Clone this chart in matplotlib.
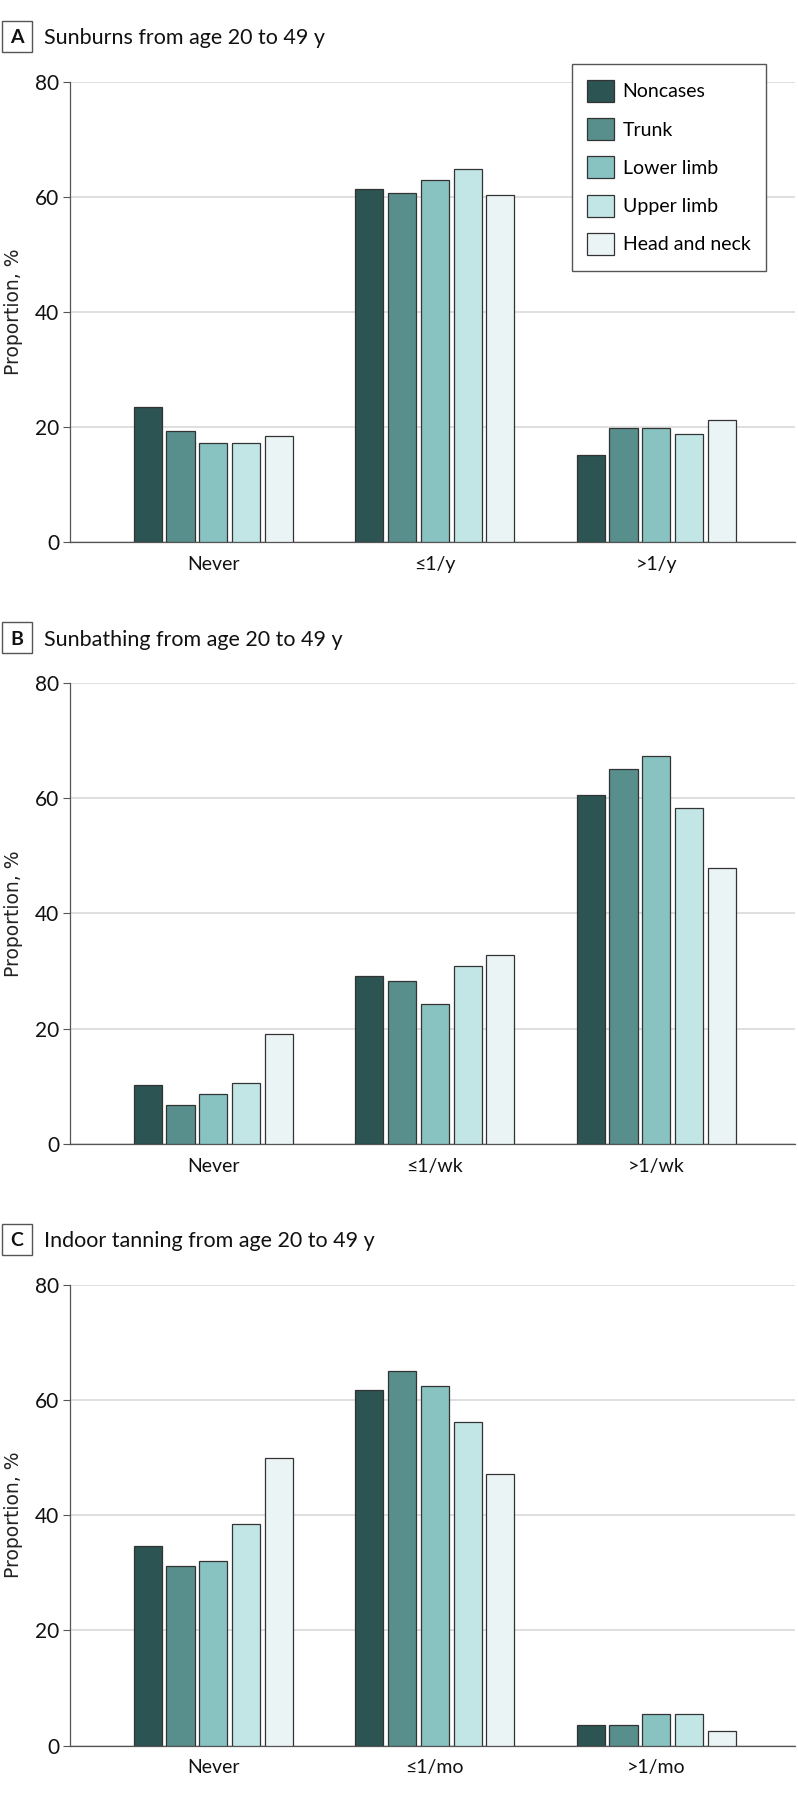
import matplotlib
matplotlib.use('Agg')
import matplotlib.pyplot as plt
from matplotlib.patches import Rectangle
import numpy as np

series = ['Noncases', 'Trunk', 'Lower limb', 'Upper limb', 'Head and neck']
colors = ['#2C5453', '#588F8C', '#88C3C2', '#C2E6E6', '#EAF4F5']

titles = ['Sunburns from age 20 to 49 y',
          'Sunbathing from age 20 to 49 y',
          'Indoor tanning from age 20 to 49 y']
letters = ['A', 'B', 'C']

cats_a = ['Never', '≤1/y', '>1/y']
cats_b = ['Never', '≤1/wk', '>1/wk']
cats_c = ['Never', '≤1/mo', '>1/mo']

# rows = series, columns = categories
sunburn = [[23.5, 61.3, 15.2],
           [19.4, 60.7, 19.9],
           [17.2, 62.9, 19.9],
           [17.2, 64.8, 18.8],
           [18.4, 60.3, 21.3]]
sunbathing = [[10.2, 29.2, 60.6],
              [6.8, 28.3, 65.1],
              [8.6, 24.2, 67.3],
              [10.5, 30.8, 58.4],
              [19.1, 32.7, 47.9]]
indoor = [[34.6, 61.8, 3.6],
          [31.1, 65.1, 3.6],
          [32.1, 62.5, 5.4],
          [38.5, 56.2, 5.4],
          [49.9, 47.2, 2.6]]

W, H = 798, 1796
fig = plt.figure(figsize=(W / 100, H / 100), dpi=100)

narrow = ['Lato', 'DejaVu Sans']
ax_left = 70.4
ax_right = 795
tops = [81.7, 683.2, 1285.0]
ax_h = 460.5

panels = [(cats_a, sunburn), (cats_b, sunbathing), (cats_c, indoor)]

for p, (cats, vals) in enumerate(panels):
    top = tops[p]
    ax = fig.add_axes([ax_left / W, 1 - (top + ax_h) / H,
                       (ax_right - ax_left) / W, ax_h / H])
    x = np.arange(len(cats))
    for i, name in enumerate(series):
        ax.bar(x + (i - 2) * 0.148, vals[i], width=0.127, color=colors[i],
               edgecolor='#333333', linewidth=0.9, label=name, zorder=3)
    ax.set_xlim(-0.645, 2.626)
    ax.set_ylim(0, 80)
    ax.set_yticks([0, 20, 40, 60, 80])
    ax.set_xticks(x)
    ax.set_xticklabels(cats, family=narrow, fontsize=14)
    for lab in ax.get_yticklabels():
        lab.set_family(narrow)
        lab.set_fontsize(15)
    ax.tick_params(axis='x', length=0, pad=10, labelcolor='#111111')
    ax.tick_params(axis='y', length=5, width=0.8, pad=3,
                   colors='#555555', labelcolor='#111111')
    ax.yaxis.grid(True, color='#D9D9D9', linewidth=1.2)
    ax.set_axisbelow(True)
    for s in ['top', 'right']:
        ax.spines[s].set_visible(False)
    for s in ['left', 'bottom']:
        ax.spines[s].set_color('#555555')
        ax.spines[s].set_linewidth(0.9)
    ax.set_ylabel('Proportion, %', family='DejaVu Sans', fontsize=13.5,
                  color='#222222')
    ax.yaxis.set_label_coords((23 - ax_left) / (ax_right - ax_left), 0.5)

    # panel letter box and title
    box_top = top - 61
    fig.patches.append(Rectangle((1.7 / W, 1 - (box_top + 31) / H), 30 / W, 31 / H,
                                 transform=fig.transFigure, fill=False,
                                 edgecolor='#555555', linewidth=1.0))
    fig.text(16.8 / W, 1 - (box_top + 22.5) / H, letters[p], ha='center',
             va='baseline', fontsize=14, fontweight='bold',
             family=['Lato', 'DejaVu Sans'], color='#111111')
    fig.text(44 / W, 1 - (box_top + 23.3) / H, titles[p], ha='left',
             va='baseline', fontsize=15.5, family=narrow, color='#111111')

    if p == 0:
        leg = ax.legend(loc='upper right',
                        bbox_to_anchor=(766 / W, 1 - 64.3 / H),
                        bbox_transform=fig.transFigure,
                        prop={'family': narrow, 'size': 14},
                        handlelength=1.4, handleheight=1.36,
                        labelspacing=0.84, handletextpad=0.42,
                        borderpad=0.8, borderaxespad=0, fancybox=False,
                        framealpha=1)
        leg.get_frame().set_edgecolor('#555555')
        leg.get_frame().set_linewidth(1.0)

fig.savefig('out.png', dpi=100)
